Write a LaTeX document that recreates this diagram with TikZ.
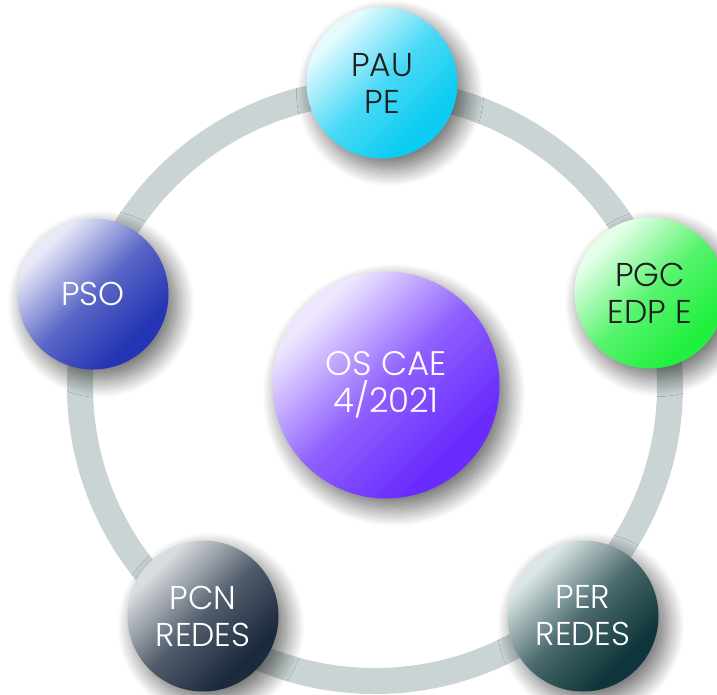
\documentclass[tikz,border=0pt]{standalone}
\usepackage{fontspec}
\setmainfont{Poppins Light}
\usetikzlibrary{shadows.blur}

\definecolor{ringgray}{HTML}{CAD4D4}
\definecolor{cyanL}{HTML}{E4FAFF}
\definecolor{cyanD}{HTML}{0CCCF2}
\definecolor{greenL}{HTML}{E4FFE8}
\definecolor{greenD}{HTML}{22F040}
\definecolor{blueL}{HTML}{E8EAF8}
\definecolor{blueD}{HTML}{2434B4}
\definecolor{violetL}{HTML}{EEE6FF}
\definecolor{violetD}{HTML}{6A2CFE}
\definecolor{slateL}{HTML}{DADDE0}
\definecolor{slateD}{HTML}{1C2A3E}
\definecolor{tealL}{HTML}{DCE6E6}
\definecolor{tealD}{HTML}{0E363A}
\definecolor{darktext}{HTML}{1E1E1E}
\colorlet{bubL}{white}
\colorlet{bubM}{gray}
\colorlet{bubD}{black}

% light towards one end, deepening smoothly to the full colour
\pgfdeclareverticalshading[bubL,bubM,bubD]{bubblefill}{100bp}{%
  color(0bp)=(bubD); color(30bp)=(bubD);
  color(50bp)=(bubM);
  color(72bp)=(bubL); color(100bp)=(bubL)}

\tikzset{
  bubble/.style n args={2}{
    circle, inner sep=0pt, align=center,
    minimum size=151pt,
    font=\fontsize{33}{37}\selectfont,
    /utils/exec={\colorlet{bubL}{#1}\colorlet{bubD}{#2}%
                 \colorlet{bubM}{#2!72!#1}},
    shading=bubblefill, shading angle=45,
    blur shadow={shadow xshift=8pt, shadow yshift=-10pt,
                 shadow blur radius=18pt, shadow blur steps=24,
                 shadow opacity=60}
  },
  ring/.style={draw=ringgray, line width=26pt}
}

\begin{document}
\begin{tikzpicture}[x=1pt, y=-1pt]
  \useasboundingbox (0,0) rectangle (717,694);
  \clip (0,0) rectangle (717,694);

  % the track that links the outer topics
  \coordinate (hub) at (375,386);
  \draw[ring] (hub) circle[radius=295pt];

  % central topic
  \node[bubble={violetL}{violetD}, minimum size=227pt, text=white,
        font=\fontsize{34}{37}\selectfont]
    (oscae) at (386,385) {OS CAE\\4/2021};

  % outer topics
  \node[bubble={cyanL}{cyanD}, text=darktext]   (paupe) at (382,83)  {PAU\\PE};
  \node[bubble={greenL}{greenD}, text=darktext] (pgc)   at (650,293) {PGC\\EDP E};
  \node[bubble={blueL}{blueD}, text=white]      (pso)   at (93,294)  {PSO};
  \node[bubble={slateL}{slateD}, text=white]    (pcn)   at (203,616) {PCN\\REDES};
  \node[bubble={tealL}{tealD}, text=white]      (per)   at (583,616) {PER\\REDES};
\end{tikzpicture}
\end{document}
